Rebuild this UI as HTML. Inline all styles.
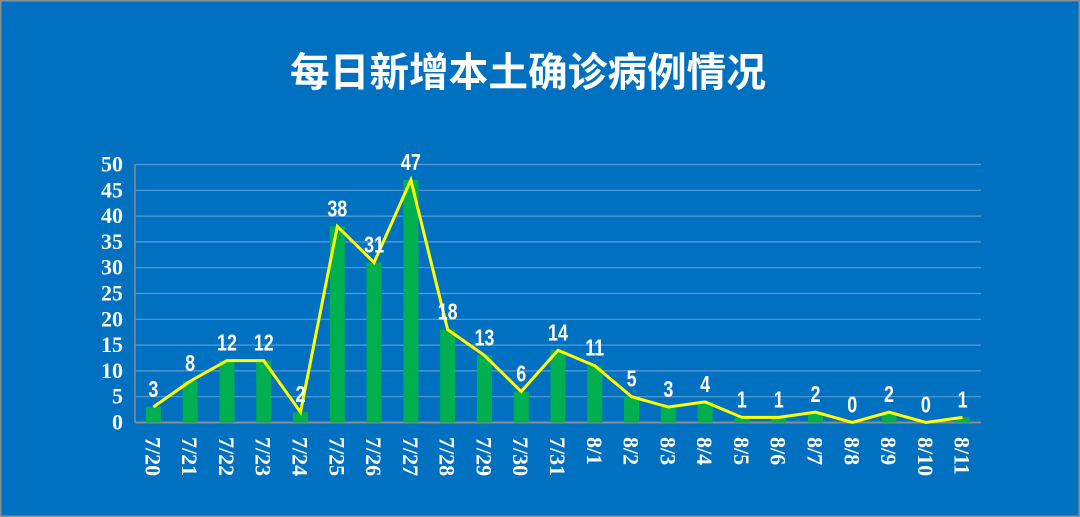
<!DOCTYPE html>
<html><head><meta charset="utf-8"><style>
html,body{margin:0;padding:0;background:#0070c0;}
svg{display:block;}
</style></head><body>
<svg id="chart" width="1080" height="517" xmlns="http://www.w3.org/2000/svg">
<rect x="0" y="0" width="1080" height="517" fill="#0070c0" stroke="#8a8f96" stroke-width="3"/>
<text x="528" y="86" text-anchor="middle" fill="#fff" font-size="40" font-weight="bold" textLength="476" lengthAdjust="spacingAndGlyphs" font-family="'Liberation Sans','Noto Sans CJK SC',sans-serif">每日新增本土确诊病例情况</text>
<g id="grid"></g>
<g id="yticks"></g>
<g id="bars"></g>
<g id="line"></g>
<g id="vals"></g>
<g id="xticks"></g>
</svg>
<script>
const categories=["7/20","7/21","7/22","7/23","7/24","7/25","7/26","7/27","7/28","7/29","7/30","7/31","8/1","8/2","8/3","8/4","8/5","8/6","8/7","8/8","8/9","8/10","8/11"];
const values=[3,8,12,12,2,38,31,47,18,13,6,14,11,5,3,4,1,1,2,0,2,0,1];
const yTicks=[0,5,10,15,20,25,30,35,40,45,50];
const NS="http://www.w3.org/2000/svg";
const L=135,R=981,T=164.5,B=422.5,yMax=50;
const bw=(R-L)/categories.length;
const x=i=>L+bw*(i+0.5);
const y=v=>B-(v/yMax)*(B-T);
function mk(tag,attrs,parent,text){const e=document.createElementNS(NS,tag);for(const k in attrs)e.setAttribute(k,attrs[k]);if(text!==undefined)e.textContent=text;parent.appendChild(e);return e;}
const g=document.getElementById('grid'),yt=document.getElementById('yticks'),bs=document.getElementById('bars'),ln=document.getElementById('line'),vl=document.getElementById('vals'),xt=document.getElementById('xticks');
yTicks.forEach(t=>{
  if(t>0){const l=mk('line',{x1:L,x2:R,y1:y(t),y2:y(t),stroke:'#5a9bd5','stroke-width':1.2},g);
  
  }
  const tx=mk('text',{x:123,y:y(t)+7,'text-anchor':'end',fill:'#fff','font-size':22,'font-weight':'bold','font-family':"'Liberation Serif',serif"},yt,String(t));
  
  
});
const ax=mk('line',{x1:L,x2:R,y1:B,y2:B,stroke:'#8c8c8c','stroke-width':2},g);


const ay=mk('line',{x1:L,x2:L,y1:T,y2:B,stroke:'#8c8c8c','stroke-width':1.5},g);


const pts=[];
values.forEach((v,i)=>{
  const r=mk('rect',{x:x(i)-7.5,y:y(v),width:15,height:B-y(v),fill:'#00b050'},bs);
  
  
  pts.push(x(i)+','+y(v));
  const t=mk('text',{x:0,y:0,transform:'translate('+x(i)+','+(y(v)-10)+') scale(0.78,1)','text-anchor':'middle',fill:'#fff','font-size':23,'font-weight':'bold','font-family':"'Liberation Sans',sans-serif"},vl,String(v));
  
  
  const c=mk('text',{x:0,y:0,transform:'translate('+(x(i)-8)+',437) rotate(90)',fill:'#fff','font-size':22,'font-weight':'bold','font-family':"'Liberation Serif',serif"},xt,categories[i]);
  
  
});
const pl=mk('polyline',{points:pts.join(' '),fill:'none',stroke:'#ffff00','stroke-width':3,'stroke-linejoin':'miter'},ln);


</script>
</body></html>
